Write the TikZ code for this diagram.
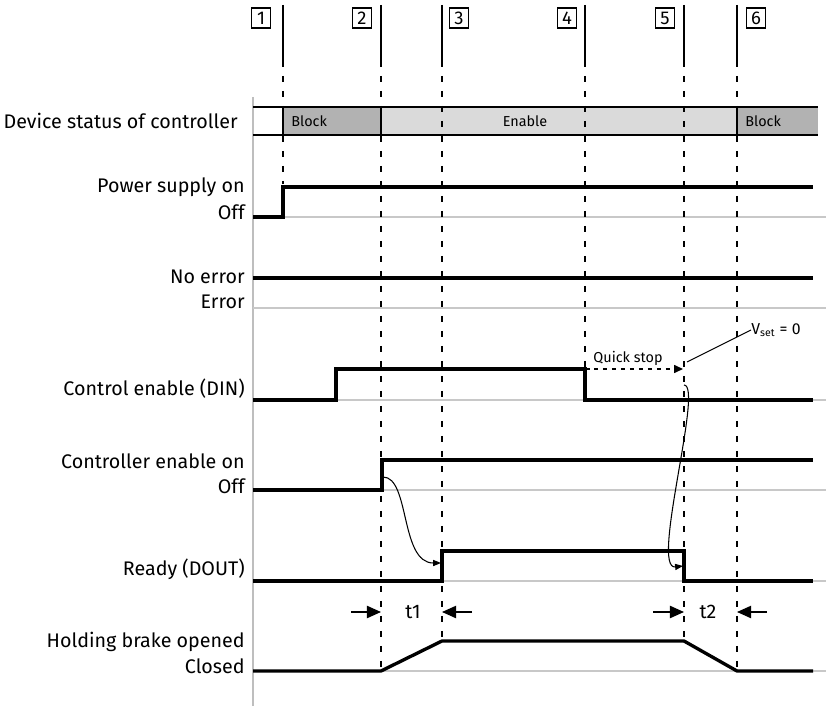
\documentclass[tikz,border=0pt]{standalone}
\usepackage{fontspec}
\setmainfont{Fira Sans}
\usetikzlibrary{arrows.meta,calc}
\definecolor{blockgray}{RGB}{178,178,178}
\definecolor{enablegray}{RGB}{218,218,218}
\definecolor{zerogray}{RGB}{200,200,200}
\definecolor{axisgray}{RGB}{190,190,190}

\begin{document}
\begin{tikzpicture}[x=0.02cm,y=-0.02cm,
  signal/.style={line width=1.9pt},
  zeroline/.style={zerogray,line width=0.9pt},
  evline/.style={line width=0.8pt},
  evdash/.style={line width=0.8pt,dash pattern=on 0.12cm off 0.18cm},
  lbl/.style={anchor=east,inner sep=0pt,font=\fontsize{11.2}{13}\selectfont},
  small/.style={inner sep=0pt,font=\fontsize{8.2}{10}\selectfont},
  numbox/.style={draw,line width=0.6pt,minimum width=0.38cm,minimum height=0.4cm,
    inner sep=0pt,font=\fontsize{10.5}{12}\selectfont},
  bigtip/.style={-{Triangle[length=8pt,width=7pt]}},
  midtip/.style={-{Triangle[length=5pt,width=4.5pt]}},
  thintip/.style={-{Triangle[length=4.5pt,width=3.5pt]}}
]
  \useasboundingbox (0,0) rectangle (826,706);

  % Left axis and zero lines
  \draw[axisgray,line width=1.4pt] (253,97) -- (253,706);
  \foreach \y in {217,308,400,490,581,671}
    \draw[zeroline] (253,\y) -- (826,\y);

  % Device status bar
  \fill[blockgray] (283,107) rectangle (818,135);
  \fill[enablegray] (381,107) rectangle (737,135);
  \draw[evline] (253,107) -- (818,107) (253,135) -- (818,135);
  \draw[evline] (283,107) -- (283,135) (381,107) -- (381,135) (737,107) -- (737,135);
  \node[small,anchor=west] (block1) at (291,121) {Block};
  \node[small] (enable) at (525,121) {Enable};
  \node[small,anchor=west] (block2) at (745,121) {Block};

  % Event lines and numbers
  \foreach \n/\x/\bx/\yend in {1/283/261/184,2/381/362/671,3/442/459/641,
      4/585/567/369,5/684/665/641,6/737/756/671} {
    \node[numbox] (box\n) at (\bx,18) {\n};
    \draw[evline] (\x,5) -- (\x,67);
    \draw[evdash] (\x,76) -- (\x,\yend);
  }

  % Signal names
  \node[lbl] (devstatus) at (238,121) {Device status of controller};
  \node[lbl] (poweron) at (245,187) {Power supply on};
  \node[lbl] (poweroff) at (245,212) {Off};
  \node[lbl] (noerror) at (245,277) {No error};
  \node[lbl] (error) at (245,302) {Error};
  \node[lbl] (ctrlenable) at (245,389) {Control enable (DIN)};
  \node[lbl] (ctrlon) at (245,461) {Controller enable on};
  \node[lbl] (ctrloff) at (245,486) {Off};
  \node[lbl] (ready) at (245,569) {Ready (DOUT)};
  \node[lbl] (brakeopen) at (245,642) {Holding brake opened};
  \node[lbl] (brakeclosed) at (245,666) {Closed};

  % Signals
  \draw[signal] (253,217) -- (283,217) -- (283,187) -- (813,187);
  \draw[signal] (253,278) -- (813,278);
  \draw[signal] (253,400) -- (336,400) -- (336,369) -- (585,369) -- (585,400) -- (813,400);
  \draw[signal] (253,490) -- (382,490) -- (382,460) -- (813,460);
  \draw[signal] (253,581) -- (442,581) -- (442,551) -- (684,551) -- (684,581) -- (813,581);
  \draw[signal] (253,671) -- (381,671) -- (442,641) -- (684,641) -- (737,671) -- (813,671);

  % Quick stop
  \coordinate (qsfrom) at (585,369);
  \coordinate (qsto) at (683,369);
  \draw[midtip,line width=0.7pt,dash pattern=on 0.09cm off 0.09cm] (qsfrom) -- (qsto);
  \node[small] (quickstop) at (628,358) {Quick stop};
  \node[small,anchor=west,font=\fontsize{9}{11}\selectfont] (vset) at (751,330) {V\textsubscript{set} = 0};
  \coordinate (vsetend) at (687,362);
  \draw[line width=0.6pt] (vsetend) -- (vset.west);

  % Cause and effect
  \coordinate (ce1from) at (383,477);
  \coordinate (ce1to) at (441,563);
  \draw[thintip,line width=0.6pt] (ce1from) .. controls (410,477) and (400,563) .. (ce1to);
  \coordinate (ce2from) at (684,385);
  \coordinate (ce2to) at (683,566);
  \draw[thintip,line width=0.6pt] (ce2from) .. controls (704,385) and (650,570) .. (ce2to);

  % Times t1 and t2
  \node[font=\fontsize{11.2}{13}\selectfont] (t1) at (413,612) {t1};
  \node[font=\fontsize{11.2}{13}\selectfont] (t2) at (708,612) {t2};
  \draw[bigtip,line width=0.7pt] (351,612) -- (381,612);
  \draw[bigtip,line width=0.7pt] (472,612) -- (442,612);
  \draw[bigtip,line width=0.7pt] (653,612) -- (684,612);
  \draw[bigtip,line width=0.7pt] (767,612) -- (737,612);
\end{tikzpicture}
\end{document}
